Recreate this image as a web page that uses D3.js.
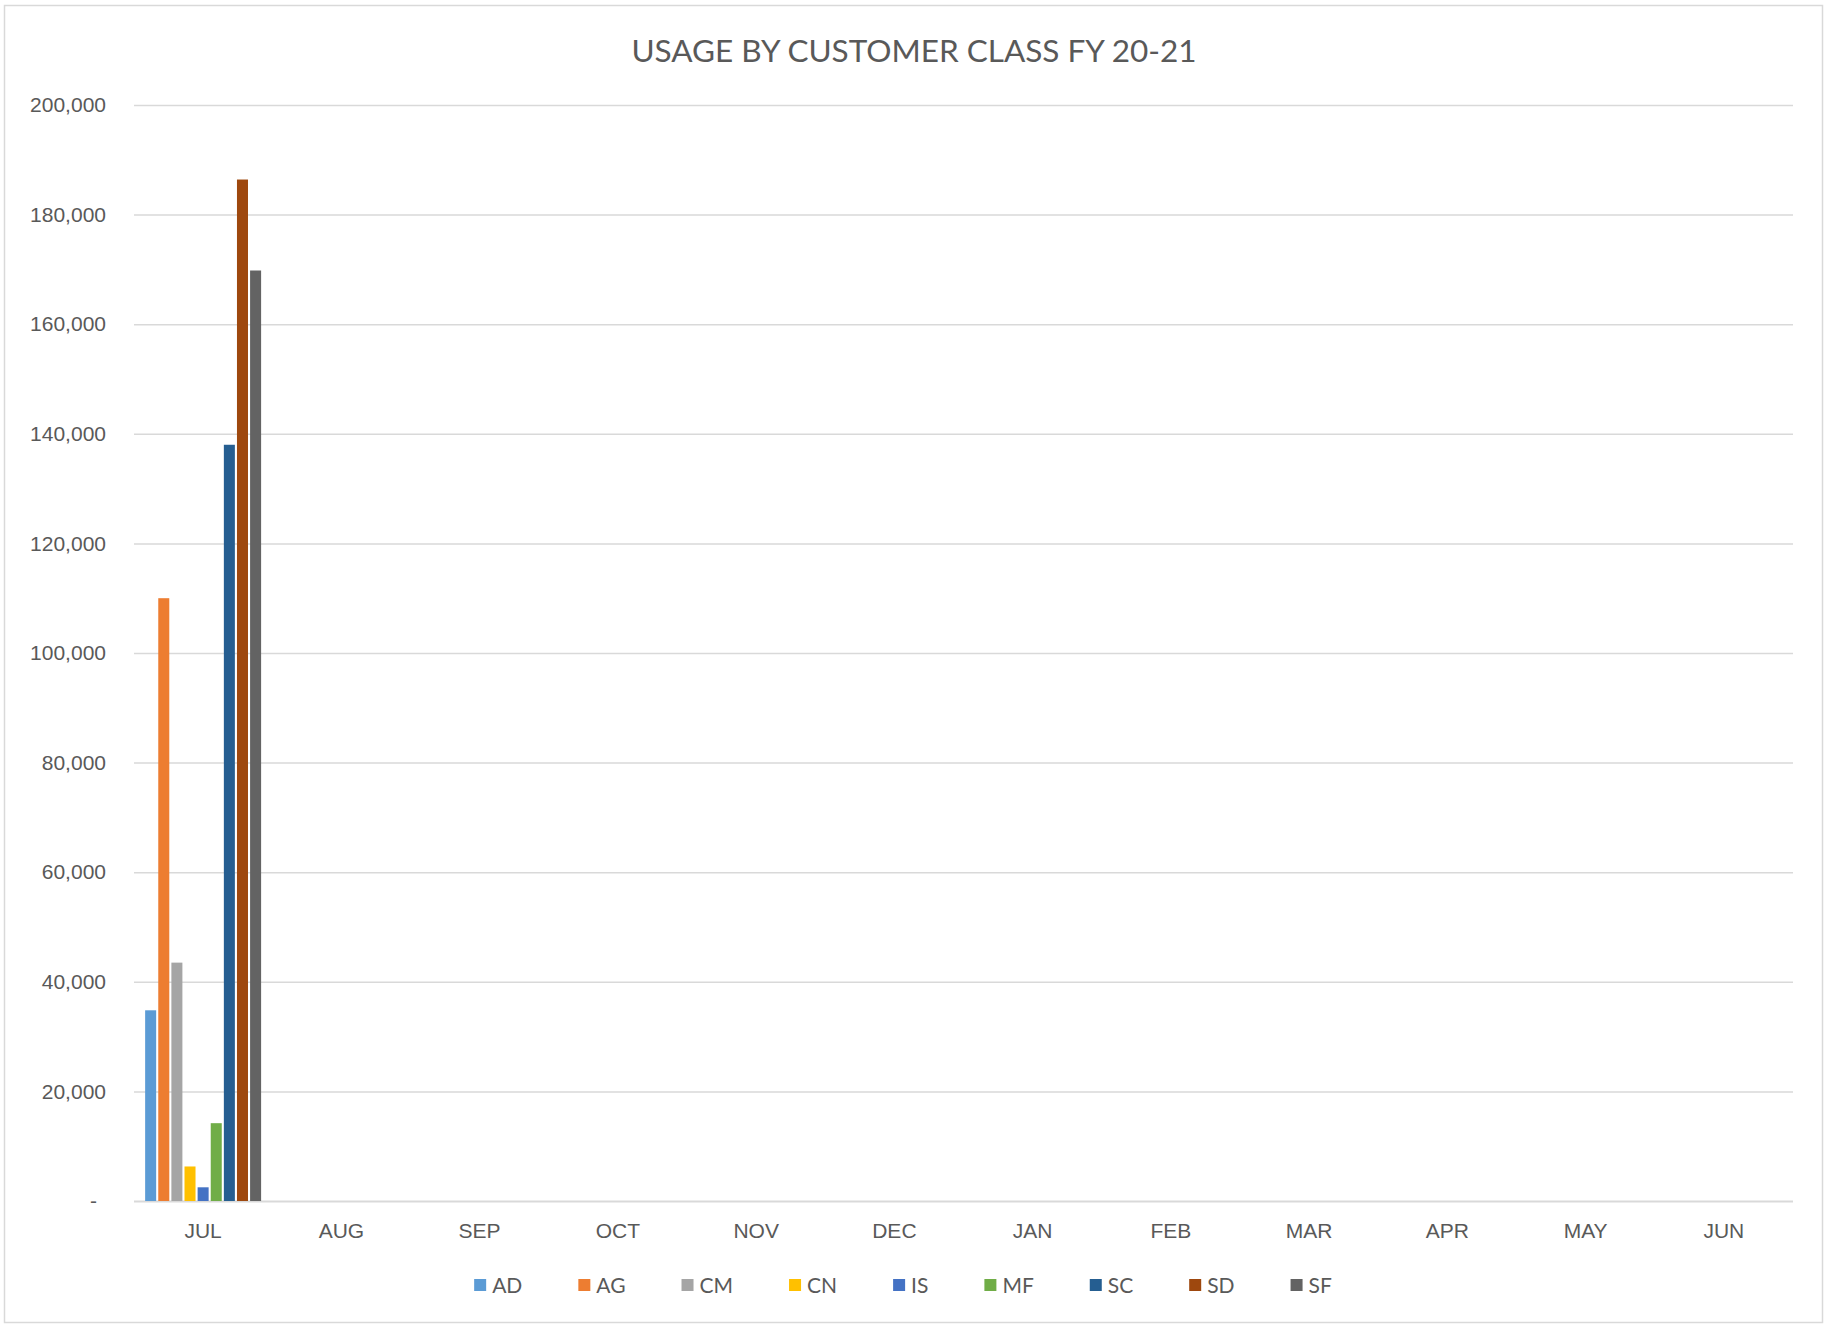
<!DOCTYPE html>
<html lang="en">
<head>
    <meta charset="UTF-8">
    <title>Usage by Customer Class FY 20-21</title>
    <script src="https://d3js.org/d3.v7.min.js"></script>
    <style>
        body {
            margin: 0;
            padding: 0;
            background-color: #fff;
            font-family: Lato, "Open Sans", sans-serif;
        }

        .tick-label, .month-label, .legend-label {
            font-size: 21px;
            fill: #595959;
        }

        .chart-title {
            font-size: 31.5px;
            fill: #595959;
        }
    </style>
</head>
<body>
    <svg id="chart" width="1825" height="1324"></svg>
    <script>
        // Months of the fiscal year
        const months = ["JUL", "AUG", "SEP", "OCT", "NOV", "DEC", "JAN", "FEB", "MAR", "APR", "MAY", "JUN"];
        // Customer classes (series)
        const classes = ["AD", "AG", "CM", "CN", "IS", "MF", "SC", "SD", "SF"];
        const classColors = ["#5B9BD5", "#ED7D31", "#A5A5A5", "#FFC000", "#4472C4", "#70AD47", "#255E91", "#9E480E", "#636363"];
        // Only July has values so far
        const julUsage = [34800, 110000, 43500, 6300, 2500, 14200, 138000, 186400, 169800];
        const yTicks = [0, 20000, 40000, 60000, 80000, 100000, 120000, 140000, 160000, 180000, 200000];

        const svg = d3.select("#chart");
        const margin = { left: 134, right: 1793, top: 105, bottom: 1201 };

        // border around the chart area
        svg.append("rect")
            .attr("x", 4.5).attr("y", 5.5)
            .attr("width", 1818).attr("height", 1317)
            .attr("fill", "#fff")
            .attr("stroke", "#D9D9D9")
            .attr("stroke-width", 1.5);

        svg.append("text")
            .attr("class", "chart-title")
            .attr("x", 914)
            .attr("y", 62)
            .attr("text-anchor", "middle")
            .text("USAGE BY CUSTOMER CLASS FY 20-21");

        const x0 = d3.scaleBand().domain(months).range([margin.left, margin.right]);
        const groupW = x0.bandwidth() * 0.854;
        const x1 = d3.scaleBand().domain(classes).range([0, groupW]);
        const barW = x1.bandwidth() * 0.84;
        const y = d3.scaleLinear().domain([0, 200000]).range([margin.bottom, margin.top]);
        const color = d3.scaleOrdinal().domain(classes).range(classColors);
        const fmt = d => d === 0 ? "-" : d3.format(",")(d);

        // gridlines and y labels
        const yAxis = d3.axisLeft(y).tickValues(yTicks).tickFormat(fmt)
            .tickSize(-(margin.right - margin.left)).tickPadding(28);
        const yg = svg.append("g")
            .attr("transform", `translate(${margin.left},0)`)
            .call(yAxis);
        yg.select(".domain").remove();
        yg.selectAll(".tick line")
            .attr("stroke", "#D9D9D9")
            .attr("stroke-width", d => d === 0 ? 2 : 1.5);
        yg.selectAll(".tick text")
            .attr("class", "tick-label")
            .attr("font-family", null).attr("font-size", null)
            .attr("fill", null)
            .attr("dx", d => d === 0 ? -9 : 0);

        // month labels
        const xAxis = d3.axisBottom(x0).tickSize(0).tickPadding(22);
        const xg = svg.append("g")
            .attr("transform", `translate(0,${margin.bottom})`)
            .call(xAxis);
        xg.select(".domain").remove();
        xg.selectAll(".tick text")
            .attr("class", "month-label")
            .attr("font-family", null).attr("font-size", null)
            .attr("fill", null);

        // bars (July only)
        const julyData = classes.map((c, i) => ({ cls: c, value: julUsage[i] }));
        const offset = (x0.bandwidth() - groupW) / 2;
        svg.append("g")
            .selectAll("rect")
            .data(julyData)
            .join("rect")
            .attr("x", d => x0("JUL") + offset + x1(d.cls) + (x1.bandwidth() - barW) / 2)
            .attr("y", d => y(d.value))
            .attr("width", barW)
            .attr("height", d => y(0) - y(d.value))
            .attr("fill", d => color(d.cls));

        // legend, laid out by text width and centred
        const legend = svg.append("g");
        const sq = 12, gapText = 6, gapItem = 56;
        const items = legend.selectAll("g")
            .data(classes)
            .join("g");
        items.append("rect")
            .attr("width", sq).attr("height", sq)
            .attr("y", -sq / 2)
            .attr("fill", d => color(d));
        items.append("text")
            .attr("class", "legend-label")
            .attr("x", sq + gapText)
            .attr("dy", "0.36em")
            .text(d => d);
        let cx = 0;
        const widths = [];
        items.each(function () {
            const w = sq + gapText + this.querySelector("text").getComputedTextLength();
            widths.push(w);
        });
        items.attr("transform", (d, i) => {
            const t = `translate(${cx},0)`;
            cx += widths[i] + gapItem;
            return t;
        });
        const totalW = cx - gapItem;
        legend.attr("transform", `translate(${903 - totalW / 2},1285)`);
    </script>
</body>
</html>
